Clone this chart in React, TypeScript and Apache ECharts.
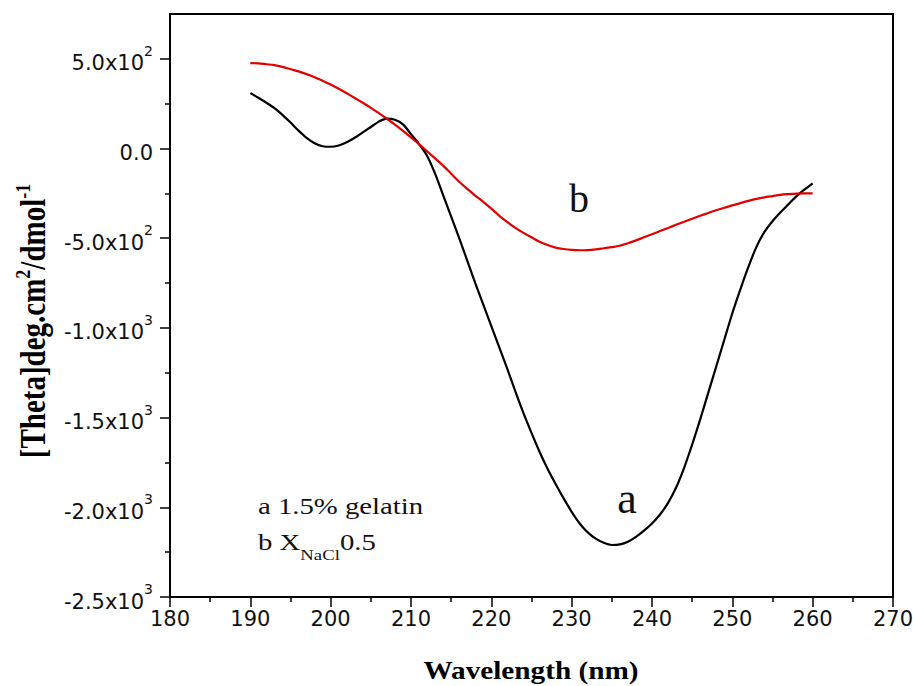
import React, { useEffect, useRef } from 'react';
import * as echarts from 'echarts';

const wavelength = [
  190, 191, 192, 193, 194, 195, 196, 197, 198, 199,
  200, 201, 202, 203, 204, 205, 206, 207, 208, 209,
  210, 211, 212, 213, 214, 215, 216, 217, 218, 219,
  220, 221, 222, 223, 224, 225, 226, 227, 228, 229,
  230, 231, 232, 233, 234, 235, 236, 237, 238, 239,
  240, 241, 242, 243, 244, 245, 246, 247, 248, 249,
  250, 251, 252, 253, 254, 255, 256, 257, 258, 259, 260,
];

// a: 1.5% gelatin
const curveA = [
  309, 283, 255, 225, 188, 145, 100, 60, 30, 13,
  10, 17, 35, 60, 90, 120, 150, 167, 160, 135,
  80, 25, -40, -140, -260, -380, -500, -625, -750, -870,
  -990, -1110, -1230, -1355, -1475, -1585, -1690, -1785, -1870, -1950,
  -2025, -2090, -2140, -2175, -2198, -2210, -2207, -2192, -2165, -2130,
  -2090, -2040, -1975, -1890, -1780, -1650, -1510, -1362, -1214, -1066,
  -918, -785, -660, -548, -465, -405, -355, -310, -265, -228, -194,
];

// b: X_NaCl 0.5
const curveB = [
  476, 475, 470, 465, 455, 442, 430, 415, 398, 378,
  357, 333, 308, 282, 255, 227, 197, 166, 133, 98,
  62, 25, -15, -55, -95, -140, -185, -225, -262, -297,
  -335, -375, -410, -442, -470, -495, -520, -538, -552, -560,
  -565, -567, -566, -562, -556, -550, -542, -528, -512, -495,
  -478, -460, -443, -425, -408, -391, -375, -359, -344, -330,
  -317, -304, -292, -281, -272, -265, -258, -254, -251, -250, -250,
];

const yTickValues = [-2500, -2000, -1500, -1000, -500, 0, 500];
const yTickLabels = ['-2.5x10^3', '-2.0x10^3', '-1.5x10^3', '-1.0x10^3', '-5.0x10^2', '0.0', '5.0x10^2'];
const yMinorTicks = [-2250, -1750, -1250, -750, -250, 250];

const seriesNames = ['a 1.5% gelatin', 'b XNaCl0.5'];

const TICK_FONT = 'DejaVu Sans';
const SERIF = '"Liberation Serif", "Times New Roman", serif';

export default function App() {
  const ref = useRef<HTMLDivElement>(null);

  useEffect(() => {
    if (!ref.current) return;
    const chart = echarts.init(ref.current, null, { renderer: 'svg' });

    const yLabelFormatter = (v: number) => {
      const i = yTickValues.indexOf(Math.round(v));
      if (i < 0) return '';
      const parts = yTickLabels[i].split('^');
      return parts.length > 1 ? `{m|${parts[0]}}{s|${parts[1]}}` : `{m|${parts[0]}}`;
    };

    chart.setOption({
      animation: false,
      backgroundColor: '#ffffff',
      grid: {
        left: 170,
        right: 20,
        top: 14,
        bottom: 89,
        show: true,
        borderColor: '#000',
        borderWidth: 2,
        containLabel: false,
        outerBoundsMode: 'none',
      },
      xAxis: {
        type: 'value',
        min: 180,
        max: 270,
        interval: 10,
        axisLine: { show: true, onZero: false, lineStyle: { color: '#000', width: 2 } },
        axisTick: { show: true, length: 10, lineStyle: { color: '#000', width: 1.5 } },
        minorTick: { show: true, splitNumber: 2, length: 5, lineStyle: { color: '#000', width: 1.5 } },
        splitLine: { show: false },
        minorSplitLine: { show: false },
        axisLabel: {
          fontFamily: TICK_FONT,
          fontSize: 21,
          color: '#111',
          margin: 11,
          formatter: (v: number) => String(v),
        },
      },
      yAxis: [
        {
          type: 'value',
          min: -2500,
          max: 750,
          interval: 500,
          axisLine: { show: true, onZero: false, lineStyle: { color: '#000', width: 2 } },
          axisTick: {
            show: true,
            length: 10,
            customValues: yTickValues,
            lineStyle: { color: '#000', width: 1.5 },
          },
          splitLine: { show: false },
          axisLabel: {
            customValues: yTickValues,
            margin: 17,
            formatter: yLabelFormatter,
            rich: {
              m: {
                fontFamily: TICK_FONT,
                fontSize: 21,
                color: '#111',
                lineHeight: 30,
                verticalAlign: 'bottom',
              },
              s: {
                fontFamily: TICK_FONT,
                fontSize: 14,
                color: '#111',
                lineHeight: 14,
                verticalAlign: 'top',
              },
            },
          },
        },
        {
          type: 'value',
          min: -2500,
          max: 750,
          position: 'left',
          axisLine: { show: false },
          axisTick: {
            show: true,
            length: 5,
            customValues: yMinorTicks,
            lineStyle: { color: '#000', width: 1.5 },
          },
          axisLabel: { show: false },
          splitLine: { show: false },
        },
      ],
      series: [
        {
          name: seriesNames[0],
          type: 'line',
          data: wavelength.map((w, i) => [w, curveA[i]]),
          showSymbol: false,
          smooth: 0.3,
          lineStyle: { color: '#000000', width: 2.2 },
          z: 3,
        },
        {
          name: seriesNames[1],
          type: 'line',
          data: wavelength.map((w, i) => [w, curveB[i]]),
          showSymbol: false,
          smooth: 0.3,
          lineStyle: { color: '#e00000', width: 2.2 },
          z: 4,
        },
      ],
      graphic: [
        {
          type: 'text',
          x: 531,
          y: 671,
          scaleX: 1.17,
          style: {
            text: 'Wavelength (nm)',
            font: `bold 25px ${SERIF}`,
            fill: '#000',
            align: 'center',
            verticalAlign: 'middle',
          },
        },
        {
          type: 'text',
          x: 31,
          y: 321,
          rotation: Math.PI / 2,
          scaleY: 1.2,
          style: {
            text: '{m|[Theta]deg.cm}{s|2}{m|/dmol}{s|-1}',
            fill: '#000',
            align: 'center',
            verticalAlign: 'middle',
            rich: {
              m: { font: `bold 29px ${SERIF}`, fill: '#000', lineHeight: 33, verticalAlign: 'bottom' },
              s: { font: `bold 18px ${SERIF}`, fill: '#000', lineHeight: 18, verticalAlign: 'top' },
            },
          },
        },
        {
          type: 'text',
          x: 258,
          y: 506,
          scaleX: 1.25,
          style: {
            text: 'a 1.5% gelatin',
            font: `23px ${SERIF}`,
            fill: '#111',
            align: 'left',
            verticalAlign: 'middle',
          },
        },
        {
          type: 'text',
          x: 258,
          y: 531,
          scaleX: 1.25,
          style: {
            text: '{m|b X}{s|NaCl}{m|0.5}',
            fill: '#111',
            align: 'left',
            verticalAlign: 'top',
            rich: {
              m: { font: `23px ${SERIF}`, fill: '#111', lineHeight: 24, verticalAlign: 'top' },
              s: {
                font: `15px ${SERIF}`,
                fill: '#111',
                lineHeight: 15,
                padding: [17, 0, 0, 0],
                verticalAlign: 'top',
              },
            },
          },
        },
        {
          type: 'text',
          x: 579,
          y: 198,
          style: {
            text: 'b',
            font: `40px ${SERIF}`,
            fill: '#111',
            align: 'center',
            verticalAlign: 'middle',
          },
        },
        {
          type: 'text',
          x: 627,
          y: 498,
          style: {
            text: 'a',
            font: `44px ${SERIF}`,
            fill: '#111',
            align: 'center',
            verticalAlign: 'middle',
          },
        },
      ],
    });

    return () => {
      chart.dispose();
    };
  }, []);

  return (
    <div
      ref={ref}
      style={{ position: 'fixed', left: 0, top: 0, width: 913, height: 686, background: '#fff' }}
    />
  );
}
